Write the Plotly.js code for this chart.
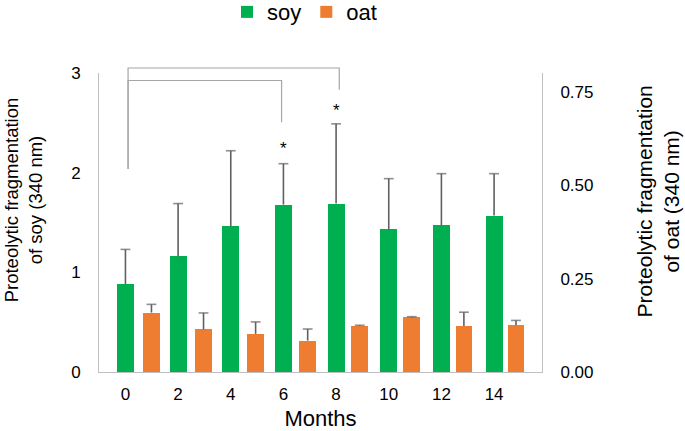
<!DOCTYPE html>
<html>
<head>
<meta charset="utf-8">
<script src="https://cdn.plot.ly/plotly-3.0.1.min.js"></script>
<style>html,body{margin:0;padding:0;background:#fff;}#chart{width:685px;height:431px;}</style>
</head>
<body>
<div id="chart"></div>
<script>
// ---- data ----
var months = [0, 2, 4, 6, 8, 10, 12, 14];
var soy = [0.88, 1.16, 1.46, 1.68, 1.69, 1.43, 1.47, 1.57];
var soyErr = [0.35, 0.53, 0.76, 0.41, 0.80, 0.51, 0.52, 0.42];
var oat = [0.159, 0.114, 0.102, 0.084, 0.123, 0.146, 0.123, 0.125];
var oatErr = [0.022, 0.044, 0.032, 0.031, 0.002, 0.002, 0.037, 0.013];
var sigMonths = [6, 8];
var sigLabels = ['*', '*'];
// comparison brackets: from month 0 to the significant month (soy axis units)
var bracketFrom = [0, 0];
var bracketTo = [6, 8];
var xTitle = 'Months';
var yTitle = 'Proteolytic fragmentation<br>of soy (340 nm)';
var y2Title = 'Proteolytic fragmentation<br>of oat (340 nm)';

// ---- style ----
var FONT = 'Liberation Sans, Arial, Helvetica, sans-serif';
var GREEN = '#00b050', ORANGE = '#ee7d31', ERR = '#606060', AXIS = '#bfbfbf', BRK = '#a6a6a6';
var yRange = [0, 3], y2Range = [0, 0.8];

function whiskers(xs, ys, es) {
  var x = [], y = [], s = [];
  for (var i = 0; i < xs.length; i++) {
    x.push(xs[i], xs[i], null);
    y.push(ys[i], ys[i] + es[i], null);
    s.push(0, 7, 0);
  }
  return {x: x, y: y, s: s};
}
var ws = whiskers(months, soy, soyErr);
var wo = whiskers(months, oat, oatErr);

var traces = [
  {type: 'bar', name: 'soy', x: months, y: soy, xaxis: 'x', yaxis: 'y',
   marker: {color: GREEN}, width: 0.64, offset: -0.32},
  {type: 'bar', name: 'oat', x: months, y: oat, xaxis: 'x2', yaxis: 'y2',
   marker: {color: ORANGE}, width: 0.64, offset: -0.32},
  {type: 'scatter', mode: 'lines+markers', x: ws.x, y: ws.y, xaxis: 'x', yaxis: 'y',
   showlegend: false, hoverinfo: 'skip', connectgaps: false,
   line: {color: ERR, width: 1.6},
   marker: {symbol: 'line-ew', size: ws.s, line: {color: ERR, width: 1.6}}},
  {type: 'scatter', mode: 'lines+markers', x: wo.x, y: wo.y, xaxis: 'x2', yaxis: 'y2',
   showlegend: false, hoverinfo: 'skip', connectgaps: false,
   line: {color: ERR, width: 1.6},
   marker: {symbol: 'line-ew', size: wo.s, line: {color: ERR, width: 1.6}}}
];

// bracket geometry (soy-axis values), converted to paper through the axis range
function py(v) { return (v - yRange[0]) / (yRange[1] - yRange[0]); }
var bracketTop = [2.925, 3.05];
var bracketEnd = [2.507, 2.832];
var bracketLeftBottom = 2.038;
var shapes = [];
for (var i = 0; i < bracketTo.length; i++) {
  var xl = bracketFrom[i] + 0.1, xr = bracketTo[i] + (i === 0 ? -0.07 : 0.12);
  shapes.push({type: 'path', xref: 'x', yref: 'paper',
    path: 'M' + xl + ',' + py(bracketLeftBottom) + ' L' + xl + ',' + py(bracketTop[i]) +
          ' L' + xr + ',' + py(bracketTop[i]) + ' L' + xr + ',' + py(bracketEnd[i]),
    line: {color: BRK, width: 1.2}});
}
var sigY = [2.24, 2.62];
var annotations = sigMonths.map(function (m, i) {
  return {x: m, y: sigY[i], xref: 'x', yref: 'y', text: sigLabels[i], showarrow: false,
          font: {family: FONT, size: 17, color: '#000'}, yanchor: 'middle'};
});
annotations.push({text: yTitle, xref: 'paper', yref: 'paper', x: -0.171, y: 0.575,
  xanchor: 'center', yanchor: 'middle', textangle: -90, showarrow: false,
  font: {family: FONT, size: 18.5, color: '#000'}});
annotations.push({text: y2Title, xref: 'paper', yref: 'paper', x: 1.261, y: 0.569,
  xanchor: 'center', yanchor: 'middle', textangle: -90, showarrow: false,
  font: {family: FONT, size: 21, color: '#000'}});

var layout = {
  width: 685, height: 431,
  margin: {l: 99, r: 143, t: 73, b: 59, pad: 0, autoexpand: false},
  paper_bgcolor: '#fff', plot_bgcolor: '#fff',
  font: {family: FONT, color: '#000', size: 17},
  showlegend: true,
  legend: {orientation: 'h', x: 0.289, xanchor: 'left', y: 1.274, yanchor: 'top',
           font: {family: FONT, size: 22, color: '#000'}, itemclick: false, traceorder: 'normal'},
  bargap: 0,
  xaxis: {range: [-1.004, 15.82], tickmode: 'array', tickvals: months, ticktext: months.map(String),
          showline: true, linecolor: AXIS, linewidth: 1, ticks: '', showgrid: false, zeroline: false,
          tickfont: {size: 17}, ticklabelstandoff: 7,
          title: {text: xTitle, font: {size: 22}, standoff: 13}},
  xaxis2: {range: [-2.015, 15.0], overlaying: 'x', visible: false},
  yaxis: {range: yRange, dtick: 1, showline: true, linecolor: AXIS, linewidth: 1, ticks: '',
          showgrid: false, zeroline: false, tickfont: {size: 17}, ticklabelstandoff: 14},
  yaxis2: {range: y2Range, dtick: 0.25, tickformat: '.2f', overlaying: 'y', side: 'right', anchor: 'x2',
           showline: true, linecolor: AXIS, linewidth: 1, ticks: '', showgrid: false, zeroline: false,
           tickfont: {size: 17}, ticklabelstandoff: 14},
  shapes: shapes,
  annotations: annotations
};

Plotly.newPlot('chart', traces, layout, {displayModeBar: false, staticPlot: true});
</script>
</body>
</html>
